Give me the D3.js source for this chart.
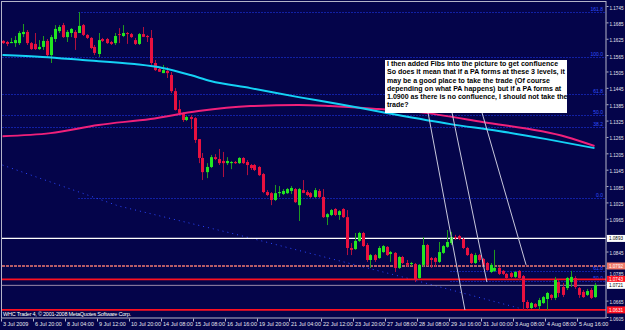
<!DOCTYPE html>
<html>
<head>
<meta charset="utf-8">
<script src="https://cdn.jsdelivr.net/npm/d3@7/dist/d3.min.js"></script>
<style>
body { margin: 0; background: #04044a; }
svg text { font-family: "Liberation Sans", Arial, sans-serif; }
</style>
</head>
<body>
<svg id="svg1" width="625" height="330"></svg>
<script>
// H4 bars, 3 Jul 2009 .. 5 Aug 2009
var open = [1.1617,1.1613,1.1609,1.1609,1.1609,1.1642,1.1650,1.1609,1.1606,1.1587,
    1.1595,1.1617,1.1565,1.1624,1.1653,1.1675,1.1631,1.1646,1.1650,1.1646,
    1.1675,1.1639,1.1628,1.1595,1.1569,1.1624,1.1624,1.1613,1.1609,1.1642,
    1.1635,1.1646,1.1642,1.1620,1.1606,1.1642,1.1635,1.1628,1.1536,1.1514,
    1.1499,1.1507,1.1492,1.1433,1.1367,1.1353,1.1327,1.1338,1.1334,1.1257,
    1.1188,1.1136,1.1155,1.1191,1.1184,1.1177,1.1169,1.1169,1.1173,1.1169,
    1.1188,1.1173,1.1162,1.1162,1.1155,1.1129,1.1063,1.1059,1.1034,1.1059,
    1.1056,1.1059,1.1067,1.1074,1.1015,1.1070,1.1063,1.1059,1.1045,1.1067,
    1.1045,1.0971,1.0979,1.1001,1.0979,1.1001,1.0971,1.0858,1.0854,1.0884,
    1.0913,1.0869,1.0814,1.0832,1.0821,1.0843,1.0862,1.0836,1.0840,1.0785,
    1.0825,1.0803,1.0799,1.0799,1.0748,1.0796,1.0869,1.0821,1.0821,1.0807,
    1.0840,1.0862,1.0876,1.0898,1.0902,1.0891,1.0858,1.0836,1.0803,1.0832,
    1.0818,1.0803,1.0770,1.0774,1.0785,1.0774,1.0763,1.0766,1.0752,1.0774,
    1.0755,1.0660,1.0638,1.0653,1.0645,1.0656,1.0671,1.0686,1.0675,1.0733,
    1.0715,1.0711,1.0733,1.0748,1.0711,1.0697,1.0686,1.0704,1.0678];
var high = [1.1620,1.1617,1.1628,1.1635,1.1653,1.1679,1.1657,1.1613,1.1646,1.1620,
    1.1635,1.1624,1.1639,1.1675,1.1675,1.1683,1.1657,1.1664,1.1657,1.1723,
    1.1679,1.1642,1.1631,1.1602,1.1646,1.1628,1.1628,1.1617,1.1646,1.1664,
    1.1675,1.1650,1.1646,1.1628,1.1646,1.1668,1.1639,1.1657,1.1547,1.1518,
    1.1529,1.1521,1.1503,1.1444,1.1400,1.1356,1.1342,1.1345,1.1338,1.1257,
    1.1206,1.1169,1.1199,1.1202,1.1221,1.1210,1.1191,1.1177,1.1177,1.1191,
    1.1191,1.1180,1.1166,1.1166,1.1158,1.1133,1.1070,1.1063,1.1089,1.1085,
    1.1074,1.1078,1.1085,1.1078,1.1078,1.1107,1.1070,1.1063,1.1078,1.1074,
    1.1074,1.0986,1.1001,1.1004,1.0997,1.1004,1.0997,1.0876,1.0913,1.0917,
    1.0917,1.0876,1.0836,1.0836,1.0865,1.0869,1.0865,1.0847,1.0843,1.0829,
    1.0829,1.0814,1.0807,1.0803,1.0799,1.0898,1.0873,1.0825,1.0825,1.0880,
    1.0869,1.0924,1.0917,1.0906,1.0906,1.0895,1.0862,1.0840,1.0840,1.0836,
    1.0821,1.0807,1.0803,1.0851,1.0788,1.0777,1.0766,1.0770,1.0774,1.0777,
    1.0759,1.0667,1.0660,1.0656,1.0675,1.0682,1.0697,1.0689,1.0752,1.0741,
    1.0730,1.0752,1.0774,1.0755,1.0715,1.0704,1.0708,1.0711,1.0730];
var low = [1.1606,1.1598,1.1609,1.1595,1.1602,1.1631,1.1602,1.1584,1.1584,1.1584,
    1.1584,1.1558,1.1536,1.1613,1.1646,1.1628,1.1613,1.1631,1.1584,1.1646,
    1.1635,1.1624,1.1587,1.1565,1.1558,1.1613,1.1606,1.1602,1.1602,1.1609,
    1.1631,1.1606,1.1628,1.1602,1.1602,1.1631,1.1613,1.1529,1.1507,1.1503,
    1.1499,1.1481,1.1426,1.1362,1.1345,1.1320,1.1323,1.1294,1.1243,1.1169,
    1.1107,1.1114,1.1151,1.1180,1.1162,1.1118,1.1162,1.1147,1.1166,1.1166,
    1.1166,1.1125,1.1144,1.1140,1.1122,1.1059,1.1048,1.1015,1.1030,1.1045,
    1.1052,1.1056,1.1056,1.1023,1.0957,1.1059,1.1048,1.1041,1.1041,1.1041,
    1.0968,1.0942,1.0975,1.0975,1.0961,1.0968,1.0832,1.0832,1.0851,1.0880,
    1.0862,1.0807,1.0785,1.0807,1.0818,1.0840,1.0829,1.0807,1.0770,1.0781,
    1.0799,1.0788,1.0792,1.0733,1.0744,1.0788,1.0792,1.0785,1.0788,1.0803,
    1.0836,1.0858,1.0869,1.0887,1.0887,1.0854,1.0829,1.0799,1.0799,1.0807,
    1.0788,1.0774,1.0766,1.0770,1.0759,1.0759,1.0744,1.0748,1.0748,1.0741,
    1.0631,1.0631,1.0634,1.0638,1.0631,1.0653,1.0631,1.0667,1.0667,1.0678,
    1.0678,1.0704,1.0715,1.0708,1.0675,1.0675,1.0682,1.0671,1.0675];
var close = [1.1609,1.1606,1.1613,1.1620,1.1646,1.1650,1.1609,1.1587,1.1587,1.1595,
    1.1617,1.1565,1.1631,1.1661,1.1668,1.1631,1.1650,1.1661,1.1628,1.1672,
    1.1639,1.1628,1.1591,1.1573,1.1620,1.1617,1.1609,1.1606,1.1635,1.1639,
    1.1646,1.1642,1.1631,1.1606,1.1642,1.1632,1.1631,1.1536,1.1510,1.1504,
    1.1510,1.1499,1.1433,1.1364,1.1353,1.1327,1.1338,1.1331,1.1254,1.1188,
    1.1136,1.1155,1.1191,1.1184,1.1169,1.1169,1.1177,1.1173,1.1169,1.1188,
    1.1169,1.1162,1.1151,1.1144,1.1125,1.1063,1.1052,1.1034,1.1059,1.1063,
    1.1067,1.1074,1.1078,1.1026,1.1074,1.1060,1.1052,1.1045,1.1070,1.1045,
    1.0971,1.0982,1.0997,1.0979,1.0993,1.0971,1.0858,1.0851,1.0884,1.0913,
    1.0865,1.0814,1.0832,1.0814,1.0858,1.0865,1.0832,1.0843,1.0785,1.0825,
    1.0803,1.0796,1.0803,1.0741,1.0796,1.0869,1.0796,1.0814,1.0807,1.0843,
    1.0865,1.0880,1.0898,1.0895,1.0891,1.0858,1.0832,1.0803,1.0832,1.0814,
    1.0796,1.0777,1.0796,1.0785,1.0763,1.0763,1.0748,1.0752,1.0770,1.0748,
    1.0660,1.0638,1.0656,1.0642,1.0667,1.0678,1.0693,1.0675,1.0741,1.0693,
    1.0686,1.0748,1.0752,1.0715,1.0686,1.0678,1.0700,1.0675,1.0722];

var timeTickBars = [0,8,16,24,32,40,48,56,64,72,80,88,96,104,112,120,128,136,144];
var timeLabels = ["3 Jul 2009","6 Jul 20:00","8 Jul 04:00","9 Jul 12:00","10 Jul 20:00",
    "14 Jul 08:00","15 Jul 08:00","16 Jul 16:00","19 Jul 20:00","21 Jul 04:00",
    "22 Jul 12:00","23 Jul 20:00","27 Jul 08:00","28 Jul 08:00","29 Jul 16:00",
    "31 Jul 00:00","3 Aug 08:00","4 Aug 08:00","5 Aug 16:00"];
var priceTicks = [1.1745,1.1685,1.1625,1.1565,1.1505,1.1445,1.1385,1.1325,1.1265,1.1205,
    1.1145,1.1085,1.1025,1.0965,1.0905,1.0845,1.0785,1.0725,1.0665,1.0605];
// tick labels that sit under a line's price box in the original
var coveredPriceTicks = [1.0905, 1.0725];

// moving averages (at a few bars)
var maSlowBars = [0,10,20,33,40,47,52,62,74,84,96,112,124,136,148];
var maSlowValues = [1.1565,1.1558,1.1547,1.1532,1.1518,1.1492,1.1470,1.1444,1.1411,1.1386,1.1353,1.1312,1.1287,1.1257,1.1224];
var maFastBars = [0,12,24,37,49,62,74,82,94,104,120,141,148];
var maFastValues = [1.1268,1.1279,1.1309,1.1331,1.1360,1.1378,1.1382,1.1378,1.1367,1.1356,1.1320,1.1265,1.1232];

// horizontal lines drawn by hand
var levelValues = [1.0893, 1.0792, 1.0743, 1.0721, 1.0631];

// fibo levels
var fibValues = [1.1723, 1.1558, 1.1422, 1.1345, 1.1301, 1.1041, 1.0774, 1.0737];
var fibStartBars = [19, 0, 0, 0, 0, 19, 112, 112];
var fibLabels = ["161.8", "100.0", "61.8", "50.0", "38.2", "0.0", "61.8", "50.0"];

// dotted trend line
var trendBars = [0, 29, 57, 101, 129];
var trendPrices = [1.1162, 1.1012, 1.0913, 1.0748, 1.0638];

// the three grey slanted lines
var slantStartBars = [106.4, 112.4, 119.9];
var slantStartPrices = [1.1353, 1.1353, 1.1353];
var slantEndBars = [115.6, 121.1, 130.9];
var slantEndPrices = [1.0631, 1.0733, 1.0796];

var noteLines = [
    "I then added Fibs into the picture to get confluence",
    "So does it mean that if a PA forms at these 3 levels, it",
    "may be a good place to take the trade (Of course",
    "depending on what PA happens) but if a PA forms at",
    "1.0900 as there is no confluence, I should not take the",
    "trade?"
];

var svg = d3.select("#svg1");
var plotRight = 606, plotBottom = 318;

var x = d3.scaleLinear().domain([0, 150]).range([2.5, 602.5]);
var y = d3.scaleLinear().domain([1.1745, 1.0605]).range([6, 317]);

svg.append("rect").attr("width", 625).attr("height", 330).attr("fill", "#04044a");

var plot = svg.append("g");

// fibo dotted lines
fibValues.forEach(function (v, i) {
    plot.append("line")
        .attr("x1", x(fibStartBars[i])).attr("x2", plotRight)
        .attr("y1", Math.round(y(v)) + 0.5).attr("y2", Math.round(y(v)) + 0.5)
        .attr("stroke", "#1f3cff").attr("stroke-dasharray", "1,2");
    plot.append("text")
        .attr("x", 603).attr("y", Math.round(y(v)) - 1)
        .attr("text-anchor", "end")
        .style("font-size", "5px").attr("fill", "#3050ff")
        .text(fibLabels[i]);
});

// trend line
plot.append("path")
    .datum(trendBars.map(function (b, i) { return [b, trendPrices[i]]; }))
    .attr("fill", "none").attr("stroke", "#2a46ff").attr("stroke-dasharray", "1,4")
    .attr("d", d3.line().x(function (d) { return x(d[0]); }).y(function (d) { return y(d[1]); }));

// horizontal lines
var levelColors = ["#ffffff", "#f07a72", "#ff1020", "#9a8aa8", "#ff1020"];
var levelWidths = [1.2, 1.6, 1.6, 1, 1.8];
levelValues.forEach(function (v, i) {
    plot.append("line")
        .attr("x1", 2).attr("x2", plotRight)
        .attr("y1", y(v)).attr("y2", y(v))
        .attr("stroke", levelColors[i]).attr("stroke-width", levelWidths[i])
        .attr("stroke-dasharray", i == 1 ? "3,1" : null);
});

// candles
var bars = d3.range(open.length);
plot.selectAll(".wick")
    .data(bars)
    .enter().append("line")
    .attr("class", "wick")
    .attr("x1", function (i) { return Math.round(x(i)) + 0.5; })
    .attr("x2", function (i) { return Math.round(x(i)) + 0.5; })
    .attr("y1", function (i) { return y(high[i]); })
    .attr("y2", function (i) { return y(low[i]); })
    .attr("stroke", function (i) { return close[i] >= open[i] ? "#1f9a1f" : "#b0103e"; });

plot.selectAll(".body")
    .data(bars)
    .enter().append("rect")
    .attr("class", "body")
    .attr("x", function (i) { return Math.round(x(i)) - 1; })
    .attr("width", 3)
    .attr("y", function (i) { return y(Math.max(open[i], close[i])); })
    .attr("height", function (i) { return Math.max(1, Math.abs(y(open[i]) - y(close[i]))); })
    .attr("fill", function (i) { return close[i] >= open[i] ? "#22e622" : "#e8113f"; });

// moving averages
var maLine = d3.line().curve(d3.curveMonotoneX)
    .x(function (d) { return x(d[0]); }).y(function (d) { return y(d[1]); });
plot.append("path")
    .datum(maFastBars.map(function (b, i) { return [b, maFastValues[i]]; }))
    .attr("fill", "none").attr("stroke", "#f0207a").attr("stroke-width", 2)
    .attr("d", maLine);
plot.append("path")
    .datum(maSlowBars.map(function (b, i) { return [b, maSlowValues[i]]; }))
    .attr("fill", "none").attr("stroke", "#14d2f5").attr("stroke-width", 2)
    .attr("d", maLine);

// slanted lines
slantStartBars.forEach(function (b, i) {
    plot.append("line")
        .attr("x1", x(b)).attr("y1", y(slantStartPrices[i]))
        .attr("x2", x(slantEndBars[i])).attr("y2", y(slantEndPrices[i]))
        .attr("stroke", "#c8c8dc").attr("stroke-width", 1);
});

// note box
var note = svg.append("g");
note.append("rect")
    .attr("x", 385).attr("y", 60).attr("width", 182).attr("height", 53)
    .attr("fill", "#ffffff");
var noteText = note.selectAll("text")
    .data(noteLines)
    .enter().append("text")
    .attr("x", 387)
    .attr("y", function (d, i) { return 66 + i * 8.25; })
    .style("font-weight", "bold")
    .style("font-size", "10px")
    .attr("fill", "#000")
    .text(function (d) { return d; });
var w = noteText.nodes()[1].getComputedTextLength();
noteText.style("font-size", (10 * 178 / w) + "px");

// frame
svg.append("rect")
    .attr("x", 1.5).attr("y", 1.5).attr("width", plotRight - 1.5).attr("height", plotBottom - 1.5)
    .attr("fill", "none").attr("stroke", "#b4b4c8");

// price axis
var yAxis = svg.append("g")
    .attr("transform", "translate(" + (plotRight + 0.5) + ",0)")
    .call(d3.axisRight(y).tickValues(priceTicks).tickSize(2).tickFormat(d3.format(".4f")));
yAxis.select(".domain").remove();
yAxis.selectAll("line").attr("stroke", "#b4b4c8");
yAxis.selectAll("text").attr("fill", "#e6e6f0").attr("x", 3).attr("dy", "0.55em")
    .attr("textLength", 14).attr("lengthAdjust", "spacingAndGlyphs")
    .style("font-size", "5.5px").style("font-family", '"Liberation Sans", Arial, sans-serif');
// labels under a price box are hidden, labels next to one are pushed clear of it
yAxis.selectAll(".tick").each(function (v) {
    var label = d3.select(this).select("text");
    if (coveredPriceTicks.indexOf(v) >= 0) { label.remove(); return; }
    levelValues.forEach(function (lv) {
        var d = y(v) - y(lv);
        if (Math.abs(d) < 6.5) label.attr("y", (d >= 0 ? 6.5 : -6.5) - d);
    });
});

// price boxes for the horizontal lines
var boxFill = ["#ffffff", "#f07a6a", "#ff1020", "#ffffff", "#ff1020"];
var boxText = ["#000000", "#ffffff", "#ffffff", "#000000", "#ffffff"];
levelValues.forEach(function (v, i) {
    svg.append("rect")
        .attr("x", plotRight + 1).attr("y", y(v) - 3.5)
        .attr("width", 18).attr("height", 7)
        .attr("fill", boxFill[i]);
    svg.append("text")
        .attr("x", plotRight + 3).attr("y", y(v) + 2)
        .attr("textLength", 14).attr("lengthAdjust", "spacingAndGlyphs")
        .style("font-size", "5.5px").attr("fill", boxText[i])
        .text(d3.format(".4f")(v));
});

// time axis
var xAxis = svg.append("g")
    .attr("transform", "translate(0," + (plotBottom + 0.5) + ")")
    .call(d3.axisBottom(x).tickValues(timeTickBars).tickSize(3)
        .tickFormat(function (d, i) { return timeLabels[i]; }));
xAxis.select(".domain").remove();
xAxis.selectAll("line").attr("stroke", "#b4b4c8")
    .attr("transform", "translate(-1.5,0)");
xAxis.selectAll("text")
    .attr("fill", "#e6e6f0").attr("text-anchor", "start")
    .attr("x", 0).attr("y", 4).attr("dy", "0.71em")
    .style("font-size", "5.5px").style("font-family", '"Liberation Sans", Arial, sans-serif');

svg.append("text")
    .attr("x", 3).attr("y", 316)
    .attr("textLength", 128)
    .style("font-size", "5.5px")
    .attr("fill", "#ffffff")
    .text("WHC Trader 4, \u00a9 2001-2008 MetaQuotes Software Corp.");
</script>
</body>
</html>
